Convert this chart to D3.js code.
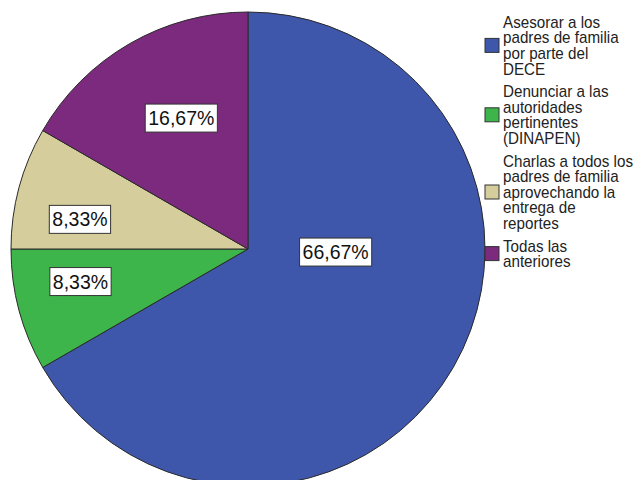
<!DOCTYPE html>
<html>
<head>
<meta charset="utf-8">
<script src="https://cdn.jsdelivr.net/npm/d3@7"></script>
<style>
  body { margin: 0; background: #fff; }
  svg { display: block; font-family: Arial, "Liberation Sans", sans-serif; }
</style>
</head>
<body>
<svg id="chart" width="641" height="480"></svg>
<script>
// data
const categories = [
    ["Asesorar a los", "padres de familia", "por parte del", "DECE"],
    ["Denunciar a las", "autoridades", "pertinentes", "(DINAPEN)"],
    ["Charlas a todos los", "padres de familia", "aprovechando la", "entrega de", "reportes"],
    ["Todas las", "anteriores"]
];
const percents = [66.67, 8.33, 8.33, 16.67];
const colors = ["#3e57aa", "#3db54b", "#d5cd9c", "#7b2a7d"];

// label placement (angle in degrees clockwise from top, radius fraction)
const labelAngle = [92, 259, 280, 333];
const labelRadius = [0.37, 0.72, 0.72, 0.62];

const svg = d3.select("#chart");
const cx = 248, cy = 249, r = 237;

const pie = d3.pie().sort(null).value(d => d);
const arcs = pie(percents);
const arc = d3.arc().innerRadius(0).outerRadius(r);

const g = svg.append("g").attr("transform", `translate(${cx},${cy})`);

g.selectAll("path.slice")
    .data(arcs)
    .enter().append("path")
        .attr("class", "slice")
        .attr("d", arc)
        .attr("fill", (d, i) => colors[i])
        .attr("stroke", "#2a2a2a")
        .attr("stroke-width", 1);

// value labels with boxes
const fmt = v => v.toFixed(2).replace(".", ",") + "%";
const labels = g.selectAll("g.lbl")
    .data(arcs)
    .enter().append("g")
        .attr("class", "lbl")
        .attr("transform", (d, i) => {
            const a = labelAngle[i] * Math.PI / 180;
            const rr = labelRadius[i] * r;
            return `translate(${rr * Math.sin(a)},${-rr * Math.cos(a)})`;
        });

labels.each(function (d, i) {
    const sel = d3.select(this);
    const t = sel.append("text")
        .attr("text-anchor", "middle")
        .attr("dy", "0.36em")
        .style("font-size", "19.5px")
        .style("fill", "#111")
        .text(fmt(d.data));
    const bb = t.node().getBBox();
    sel.insert("rect", "text")
        .attr("x", bb.x - 3)
        .attr("y", -14)
        .attr("width", bb.width + 6)
        .attr("height", 28)
        .attr("fill", "#fff")
        .attr("stroke", "#333")
        .attr("stroke-width", 1);
});

// legend
const legend = svg.append("g").attr("class", "legend");
const lineH = 15.6, gap = 7, textX = 503;
let yStart = 22;
categories.forEach((lines, i) => {
    const blockMid = yStart + (lines.length - 1) * lineH / 2;
    legend.append("rect")
        .attr("x", 485)
        .attr("y", blockMid - 7)
        .attr("width", 14)
        .attr("height", 14)
        .attr("fill", colors[i])
        .attr("stroke", "#333")
        .attr("stroke-width", 1);
    lines.forEach((ln, j) => {
        legend.append("text")
            .attr("transform", `translate(${textX},${yStart + j * lineH}) scale(0.95,1)`)
            .attr("dy", "0.36em")
            .style("font-size", "16px")
            .style("fill", "#222")
            .text(ln);
    });
    yStart += lines.length * lineH + gap;
});
</script>
</body>
</html>
